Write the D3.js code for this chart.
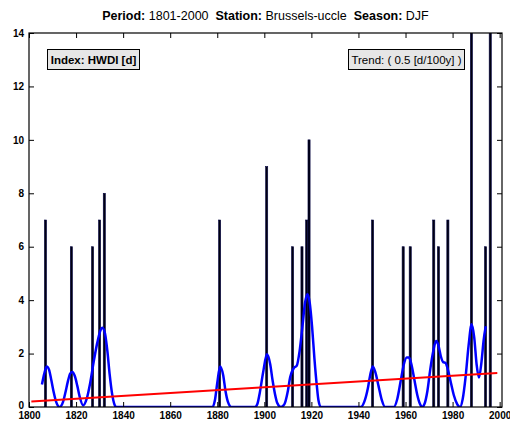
<!DOCTYPE html>
<html>
<head>
<title>HWDI Brussels-uccle DJF</title>
<meta charset="utf-8">
<style type="text/css">
body { margin: 0; background-color: #fff; }
svg text { font-family: "Liberation Sans", Arial, sans-serif; fill: #000; }
.tick text { font-weight: bold; font-size: 10px; }
.tick line { stroke: #000; }
</style>
</head>
<body>
<svg id="chart"></svg>

<script src="https://d3js.org/d3.v7.min.js"></script>
<script type="text/javascript">
const WIDTH = 510;
const HEIGHT = 423;
const PLOT = {left: 29, right: 502, top: 33, bottom: 407};

// yearly index values (only the non-zero years)
const barYears  = [1807, 1818, 1827, 1830, 1832, 1881, 1901, 1912, 1916, 1918, 1919,
                   1946, 1959, 1962, 1972, 1974, 1978, 1988, 1994, 1996];
const barValues = [7, 6, 6, 7, 8, 7, 9, 6, 6, 7, 10,
                   7, 6, 6, 7, 6, 7, 16, 6, 15];

// smoothed curve
const smoothYears = [1805.5, 1806.5, 1807.5, 1808.5, 1809.5, 1810.5, 1811.5, 1813, 1814.5, 1815.5,
                     1816.5, 1817.5, 1818.4, 1819.5, 1820.5, 1821.5, 1823, 1824.5, 1826, 1827.5,
                     1829, 1830.3, 1831.2, 1832.3, 1833.3, 1834.3, 1835.3, 1836.3, 1837, 1878,
                     1879, 1880, 1881.2, 1882.5, 1883.5, 1884.5, 1886, 1896, 1897, 1898,
                     1899.5, 1901.1, 1902.5, 1903.5, 1904.5, 1905.5, 1907, 1908.5, 1910, 1911,
                     1912.5, 1913.8, 1915, 1916.3, 1917.3, 1918.3, 1919.3, 1920.3, 1921.3, 1922.3,
                     1923, 1924, 1941, 1942.5, 1944, 1945, 1946.1, 1947.2, 1948.5, 1949.8,
                     1951.3, 1955, 1956.5, 1958, 1959.3, 1960.5, 1961.5, 1962.5, 1963.8, 1965,
                     1966.2, 1967, 1968, 1969.3, 1970.5, 1971.8, 1973, 1974, 1975, 1976,
                     1977, 1978, 1979.3, 1980.5, 1982, 1983.2, 1984.3, 1985.5, 1986.8, 1988.1,
                     1989.2, 1990.2, 1991.2, 1992.3, 1993.2, 1994.1];
const smoothValues = [0.84, 1.25, 1.52, 1.4, 1.0, 0.55, 0.2, 0, 0.2, 0.55,
                      0.95, 1.25, 1.31, 1.15, 0.8, 0.4, 0.06, 0.3, 0.9, 1.7,
                      2.4, 2.85, 2.97, 2.75, 2.1, 1.2, 0.5, 0.1, 0, 0,
                      0.25, 0.9, 1.52, 1.2, 0.6, 0.2, 0, 0, 0.1, 0.5,
                      1.3, 1.97, 1.6, 1.0, 0.5, 0.15, 0, 0.1, 0.6, 1.12,
                      1.45, 1.55, 2.1, 3.1, 3.9, 4.22, 3.9, 3.0, 1.8, 0.8,
                      0.25, 0, 0, 0.2, 0.7, 1.2, 1.52, 1.3, 0.8, 0.3,
                      0, 0, 0.3, 1.0, 1.6, 1.85, 1.85, 1.6, 1.0, 0.45,
                      0.1, 0, 0.1, 0.6, 1.4, 2.1, 2.47, 2.3, 1.9, 1.68,
                      1.65, 1.4, 0.9, 0.45, 0.1, 0, 0.3, 1.1, 2.3, 3.1,
                      2.6, 1.6, 1.1, 1.7, 2.5, 3.02];

// linear trend end points
const trendYears  = [1801, 1999];
const trendValues = [0.21, 1.27];

const xTicks = [1800, 1820, 1840, 1860, 1880, 1900, 1920, 1940, 1960, 1980, 2000];
const yTicks = [0, 2, 4, 6, 8, 10, 12, 14];

const x = d3.scaleLinear().domain([1800, 2001]).range([PLOT.left, PLOT.right]);
const y = d3.scaleLinear().domain([0, 14]).range([PLOT.bottom, PLOT.top]);

const svg = d3.select("#chart")
    .attr("width", WIDTH)
    .attr("height", HEIGHT)
    .attr("viewBox", [0, 0, WIDTH, HEIGHT]);

svg.append("defs").append("clipPath").attr("id", "plot-clip")
    .append("rect")
    .attr("x", PLOT.left).attr("y", PLOT.top)
    .attr("width", PLOT.right - PLOT.left).attr("height", PLOT.bottom - PLOT.top);

const plot = svg.append("g").attr("clip-path", "url(#plot-clip)");

// bars
const bw = x(1800.9) - x(1800);
plot.selectAll("rect.bar")
    .data(barYears.map((yr, i) => ({year: yr, value: barValues[i]})))
    .join("rect")
    .attr("class", "bar")
    .attr("x", d => x(d.year) - bw / 2)
    .attr("y", d => y(d.value))
    .attr("width", bw)
    .attr("height", d => y(0) - y(d.value))
    .attr("fill", "#000010")
    .attr("stroke", "#000040")
    .attr("stroke-width", 0.6);

// smoothed curve
const smooth = smoothYears.map((yr, i) => ({year: yr, value: smoothValues[i]}));
plot.append("path").datum(smooth)
    .attr("fill", "none")
    .attr("stroke", "#0000ff")
    .attr("stroke-width", 2.5)
    .attr("stroke-linejoin", "round")
    .attr("d", d3.line().x(d => x(d.year)).y(d => y(d.value)).curve(d3.curveMonotoneX));

// trend line
const trend = trendYears.map((yr, i) => ({year: yr, value: trendValues[i]}));
plot.append("path").datum(trend)
    .attr("fill", "none")
    .attr("stroke", "#ff0000")
    .attr("stroke-width", 2)
    .attr("d", d3.line().x(d => x(d.year)).y(d => y(d.value)));

// axes, ticks pointing inwards
svg.append("g")
    .attr("transform", `translate(0,${PLOT.bottom})`)
    .call(d3.axisBottom(x).tickValues(xTicks).tickFormat(d3.format("d")).tickSize(-5).tickPadding(5))
    .call(g => g.select(".domain").remove());
svg.append("g")
    .attr("transform", `translate(0,${PLOT.top})`)
    .call(d3.axisTop(x).tickValues(xTicks).tickFormat("").tickSize(-5))
    .call(g => g.select(".domain").remove());
svg.append("g")
    .attr("transform", `translate(${PLOT.left},0)`)
    .call(d3.axisLeft(y).tickValues(yTicks).tickSize(-5).tickPadding(5))
    .call(g => g.selectAll(".tick text").attr("dy", (d, i) => d === 0 ? "0.1em" : "0.32em"))
    .call(g => g.select(".domain").remove());
svg.append("g")
    .attr("transform", `translate(${PLOT.right},0)`)
    .call(d3.axisRight(y).tickValues(yTicks).tickFormat("").tickSize(-5))
    .call(g => g.select(".domain").remove());

svg.append("rect")
    .attr("x", PLOT.left).attr("y", PLOT.top)
    .attr("width", PLOT.right - PLOT.left).attr("height", PLOT.bottom - PLOT.top)
    .attr("fill", "none")
    .attr("stroke", "#000")
    .attr("stroke-width", 1.2);

// title
const title = svg.append("text")
    .attr("x", (PLOT.left + PLOT.right) / 2)
    .attr("y", 20)
    .attr("text-anchor", "middle")
    .attr("font-size", "12.5px");
[["Period: ", true], ["1801-2000  ", false], ["Station: ", true], ["Brussels-uccle  ", false],
 ["Season: ", true], ["DJF", false]].forEach(([t, b]) => {
    title.append("tspan").attr("font-weight", b ? "bold" : "normal")
        .attr("xml:space", "preserve").text(t);
});

// label boxes
function labelBox(x0, y0, w, h, txt, bold) {
    svg.append("rect")
        .attr("x", x0).attr("y", y0).attr("width", w).attr("height", h)
        .attr("fill", "#e6e6e6").attr("stroke", "#000").attr("stroke-width", 1);
    svg.append("text")
        .attr("x", x0 + w / 2).attr("y", y0 + h / 2 + 4)
        .attr("text-anchor", "middle")
        .attr("font-size", "11.5px")
        .attr("font-weight", bold ? "bold" : "normal")
        .text(txt);
}
labelBox(47.5, 49.5, 92, 20, "Index: HWDI [d]", true);
labelBox(348.5, 49.5, 116, 20, "Trend: ( 0.5 [d/100y] )", false);
</script>
</body>
</html>
